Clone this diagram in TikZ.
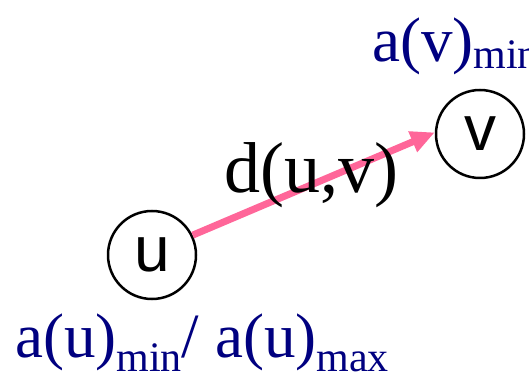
\documentclass[tikz,border=0pt]{standalone}
\usepackage{fontspec}
\setmainfont{Liberation Serif}
\setsansfont{Liberation Sans}
\usetikzlibrary{arrows.meta,positioning}
\definecolor{navyblue}{HTML}{000080}
\definecolor{edgepink}{HTML}{FF6699}
\newcommand{\lowsub}[2]{\raisebox{-#1}{\fontsize{42}{42}\selectfont #2}}

\begin{document}
\begin{tikzpicture}[x=1pt,y=1pt,
    vertex/.style={circle, draw, line width=2.5pt, minimum size=88pt, inner sep=0pt,
      font=\sffamily\fontsize{64}{64}\selectfont},
    attr/.style={navyblue, anchor=base west, inner sep=0pt,
      font=\fontsize{63}{63}\selectfont}]
    \clip (0,0) rectangle (529,377);

    % Vertices
    \node[vertex] (u) at (152,122) {u};
    \node[vertex] (v) at (480,243) {v};

    % Edge and its weight
    \draw[-{Triangle[length=24pt,width=21pt]}, line width=7pt, edgepink] (u.26) -- (v.178);
    \node[anchor=base, inner sep=0pt, font=\fontsize{72}{72}\selectfont] (d) at (311,184) {d(u,v)};

    % Attribute labels
    \node[attr] (av) at (372,315) {a(v)\lowsub{7pt}{min}};
    \node[attr] (au) at (15,20) {a(u)\lowsub{15pt}{min}/ a(u)\lowsub{15pt}{max}};
\end{tikzpicture}
\end{document}
